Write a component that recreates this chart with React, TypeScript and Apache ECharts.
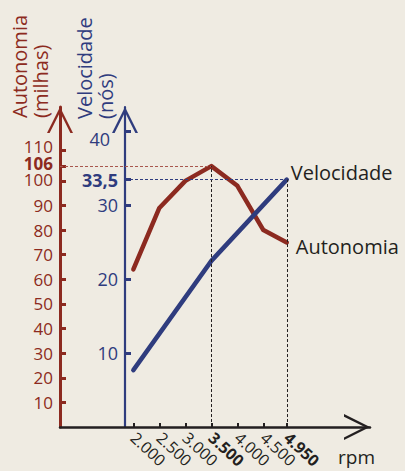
import React, { useEffect, useRef } from "react";
import * as echarts from "echarts";

const rpmCategories = [2000, 2500, 3000, 3500, 4000, 4500, 4950];
const autonomiaValues = [64, 89, 100, 106, 98, 80, 75];
const velocidadeRpm = [2000, 3500, 4950];
const velocidadeValues = [7.7, 22.5, 33.5];
const autonomiaTicks = [10, 20, 30, 40, 50, 60, 70, 80, 90, 100, 106];
const autonomiaLabels = [10, 20, 30, 40, 50, 60, 70, 80, 90, 100];
const autonomiaTopTick = 110;
const velocidadeTicks = [10, 20, 30, 33.5, 40];
const peakRpm = 3500;
const peakAutonomia = 106;
const maxRpm = 4950;
const maxVelocidade = 33.5;

const RED = "#8c2a20";
const BLUE = "#2f3c7e";
const INK = "#231f20";
const FONT = "'Open Sans', 'Noto Sans', sans-serif";

const X_MIN = 590;
const X_MAX = 6550;
const GRID_LEFT = 60;
const GRID_RIGHT = 35;
const BLUE_OFFSET = 65;
const CHART_W = 405;
const RED_MAX = 130;
// the printed scale is stretched near its top: the 110 mark sits higher than a linear scale puts it
const RED_TOP_MAX = 127;
// rpm where the blue axis sits
const blueAxisRpm = X_MIN + (BLUE_OFFSET * (X_MAX - X_MIN)) / (CHART_W - GRID_LEFT - GRID_RIGHT);

const chevron = "path://M0,0 L12,24 L9.6,24 L0,4.8 L-9.6,24 L-12,24 Z";

const fmtRpm = (v: number) => {
  const s = String(v);
  const t = s.slice(0, s.length - 3) + "." + s.slice(s.length - 3);
  return v === peakRpm || v === maxRpm ? "{b|" + t + "}" : "{n|" + t + "}";
};

const fmtRed = (v: number) => (v === 100 ? "{h|" + v + "}" : "{n|" + v + "}");

const fmtBlue = (v: number) => {
  if (v === maxVelocidade) return "{b|" + String(v).replace(".", ",") + "}";
  if (v === 40) return "{dn|" + v + "}";
  return "{n|" + v + "}";
};

const hiddenLine = { show: false };

export default function App() {
  const ref = useRef<HTMLDivElement>(null);
  useEffect(() => {
    if (!ref.current) return;
    const chart = echarts.init(ref.current, undefined, { renderer: "svg" });
    chart.setOption({
      animation: false,
      backgroundColor: "#efebe2",
      textStyle: { fontFamily: FONT },
      grid: { left: GRID_LEFT, right: GRID_RIGHT, top: 107, bottom: 38 },
      xAxis: {
        type: "value",
        min: X_MIN,
        max: X_MAX,
        splitLine: { show: false },
        axisLine: {
          show: true,
          lineStyle: { color: INK, width: 2.5 },
          symbol: ["none", chevron],
          symbolSize: [27, 26],
          symbolOffset: [0, -13],
        },
        axisTick: {
          show: true,
          inside: true,
          length: 4,
          lineStyle: { color: INK, width: 2 },
          customValues: rpmCategories,
        },
        axisLabel: {
          show: true,
          rotate: -43,
          margin: 8,
          hideOverlap: false,
          showMinLabel: true,
          showMaxLabel: true,
          customValues: rpmCategories,
          formatter: fmtRpm,
          rich: {
            n: { fontSize: 16, color: INK, fontFamily: FONT },
            b: { fontSize: 16, color: INK, fontFamily: FONT, fontWeight: "bold" },
          },
        },
      },
      yAxis: [
        {
          type: "value",
          position: "left",
          min: 0,
          max: RED_MAX,
          splitLine: { show: false },
          axisLine: {
            show: true,
            lineStyle: { color: RED, width: 3 },
            symbol: ["none", chevron],
            symbolSize: [26, 26],
            symbolOffset: [0, -13],
          },
          axisTick: {
            show: true,
            inside: true,
            length: 6,
            lineStyle: { color: RED, width: 3 },
            customValues: autonomiaTicks,
          },
          axisLabel: {
            show: true,
            margin: 7,
            hideOverlap: false,
            showMinLabel: true,
            showMaxLabel: true,
            customValues: autonomiaLabels,
            formatter: fmtRed,
            rich: {
              n: { fontSize: 17, lineHeight: 17, color: RED, fontFamily: FONT },
              h: { fontSize: 17, lineHeight: 15, color: RED, fontFamily: FONT, padding: [0, 0, 2, 0] },
            },
          },
        },
        {
          type: "value",
          position: "left",
          offset: -BLUE_OFFSET,
          min: 0,
          max: RED_MAX / 3,
          splitLine: { show: false },
          axisLine: {
            show: true,
            lineStyle: { color: BLUE, width: 2.2 },
            symbol: ["none", chevron],
            symbolSize: [26, 26],
            symbolOffset: [0, -13],
          },
          axisTick: {
            show: true,
            inside: true,
            length: 6,
            lineStyle: { color: BLUE, width: 3 },
            customValues: velocidadeTicks,
          },
          axisLabel: {
            show: true,
            margin: 7,
            hideOverlap: false,
            showMinLabel: true,
            showMaxLabel: true,
            customValues: velocidadeTicks,
            formatter: fmtBlue,
            rich: {
              n: { fontSize: 18, color: BLUE, fontFamily: FONT },
              dn: { fontSize: 18, color: BLUE, fontFamily: FONT, padding: [14, 8, 0, 0] },
              b: { fontSize: 18, color: BLUE, fontFamily: FONT, fontWeight: "bold" },
            },
          },
        },
        {
          // label-only axis for the highlighted peak value (same scale as the red axis)
          type: "value",
          position: "left",
          offset: 0,
          min: 0,
          max: RED_MAX,
          splitLine: { show: false },
          axisLine: hiddenLine,
          axisTick: { show: false },
          axisLabel: {
            show: true,
            margin: 7,
            hideOverlap: false,
            showMinLabel: true,
            showMaxLabel: true,
            customValues: [peakAutonomia],
            formatter: (v: number) => "{b|" + v + "}",
            rich: {
              b: { fontSize: 17, lineHeight: 14, color: RED, fontFamily: FONT, fontWeight: "bold", padding: [0, 0, 6, 0] },
            },
          },
        },
        {
          // top mark of the red scale
          type: "value",
          position: "left",
          offset: 0,
          min: 0,
          max: RED_TOP_MAX,
          splitLine: { show: false },
          axisLine: hiddenLine,
          axisTick: {
            show: true,
            inside: true,
            length: 6,
            lineStyle: { color: RED, width: 3 },
            customValues: [autonomiaTopTick],
          },
          axisLabel: {
            show: true,
            margin: 7,
            hideOverlap: false,
            showMinLabel: true,
            showMaxLabel: true,
            customValues: [autonomiaTopTick],
            formatter: (v: number) => "{n|" + v + "}",
            rich: {
              n: { fontSize: 17, lineHeight: 14, color: RED, fontFamily: FONT, padding: [0, 0, 7, 0] },
            },
          },
        },
      ],
      series: [
        {
          name: "Autonomia",
          type: "line",
          yAxisIndex: 0,
          data: rpmCategories.map((r, i) => [r, autonomiaValues[i]]),
          showSymbol: false,
          lineStyle: { color: RED, width: 4.5, cap: "round", join: "round" },
          endLabel: {
            show: true,
            formatter: "Autonomia",
            color: INK,
            fontSize: 20,
            fontFamily: FONT,
            distance: 9,
            offset: [0, 4],
          },
          markLine: {
            silent: true,
            symbol: "none",
            label: { show: false },
            data: [
              [
                { coord: [X_MIN, peakAutonomia], lineStyle: { color: "#a8574d", width: 1, type: [3, 2] } },
                { coord: [peakRpm, peakAutonomia] },
              ],
              [
                { coord: [peakRpm, 0], lineStyle: { color: INK, width: 1, type: [3, 2] } },
                { coord: [peakRpm, peakAutonomia] },
              ],
            ],
          },
          z: 3,
        },
        {
          name: "Velocidade",
          type: "line",
          yAxisIndex: 1,
          data: velocidadeRpm.map((r, i) => [r, velocidadeValues[i]]),
          showSymbol: false,
          lineStyle: { color: BLUE, width: 4.5, cap: "round", join: "round" },
          endLabel: {
            show: true,
            formatter: "Velocidade",
            color: INK,
            fontSize: 20,
            fontFamily: FONT,
            distance: 4,
            offset: [0, -7],
          },
          markLine: {
            silent: true,
            symbol: "none",
            label: { show: false },
            data: [
              [
                { coord: [blueAxisRpm, maxVelocidade], lineStyle: { color: BLUE, width: 1, type: [3, 2] } },
                { coord: [maxRpm, maxVelocidade] },
              ],
              [
                { coord: [maxRpm, 0], lineStyle: { color: INK, width: 1, type: [3, 2] } },
                { coord: [maxRpm, maxVelocidade] },
              ],
            ],
          },
          z: 4,
        },
      ],
      graphic: [
        {
          type: "text",
          x: 9,
          y: 118,
          rotation: Math.PI / 2,
          style: {
            text: "Autonomia\n(milhas)",
            fill: RED,
            fontSize: 20,
            fontFamily: FONT,
            lineHeight: 21,
            align: "left",
            verticalAlign: "top",
          },
        },
        {
          type: "text",
          x: 74,
          y: 119,
          rotation: Math.PI / 2,
          style: {
            text: "Velocidade\n(nós)",
            fill: BLUE,
            fontSize: 20,
            fontFamily: FONT,
            lineHeight: 21,
            align: "left",
            verticalAlign: "top",
          },
        },
        {
          type: "text",
          x: 338,
          y: 447,
          style: {
            text: "rpm",
            fill: INK,
            fontSize: 19,
            fontFamily: FONT,
            align: "left",
            verticalAlign: "top",
          },
        },
      ],
    });
    return () => chart.dispose();
  }, []);
  return (
    <div
      ref={ref}
      style={{ position: "fixed", left: 0, top: 0, width: 405, height: 471 }}
    />
  );
}
